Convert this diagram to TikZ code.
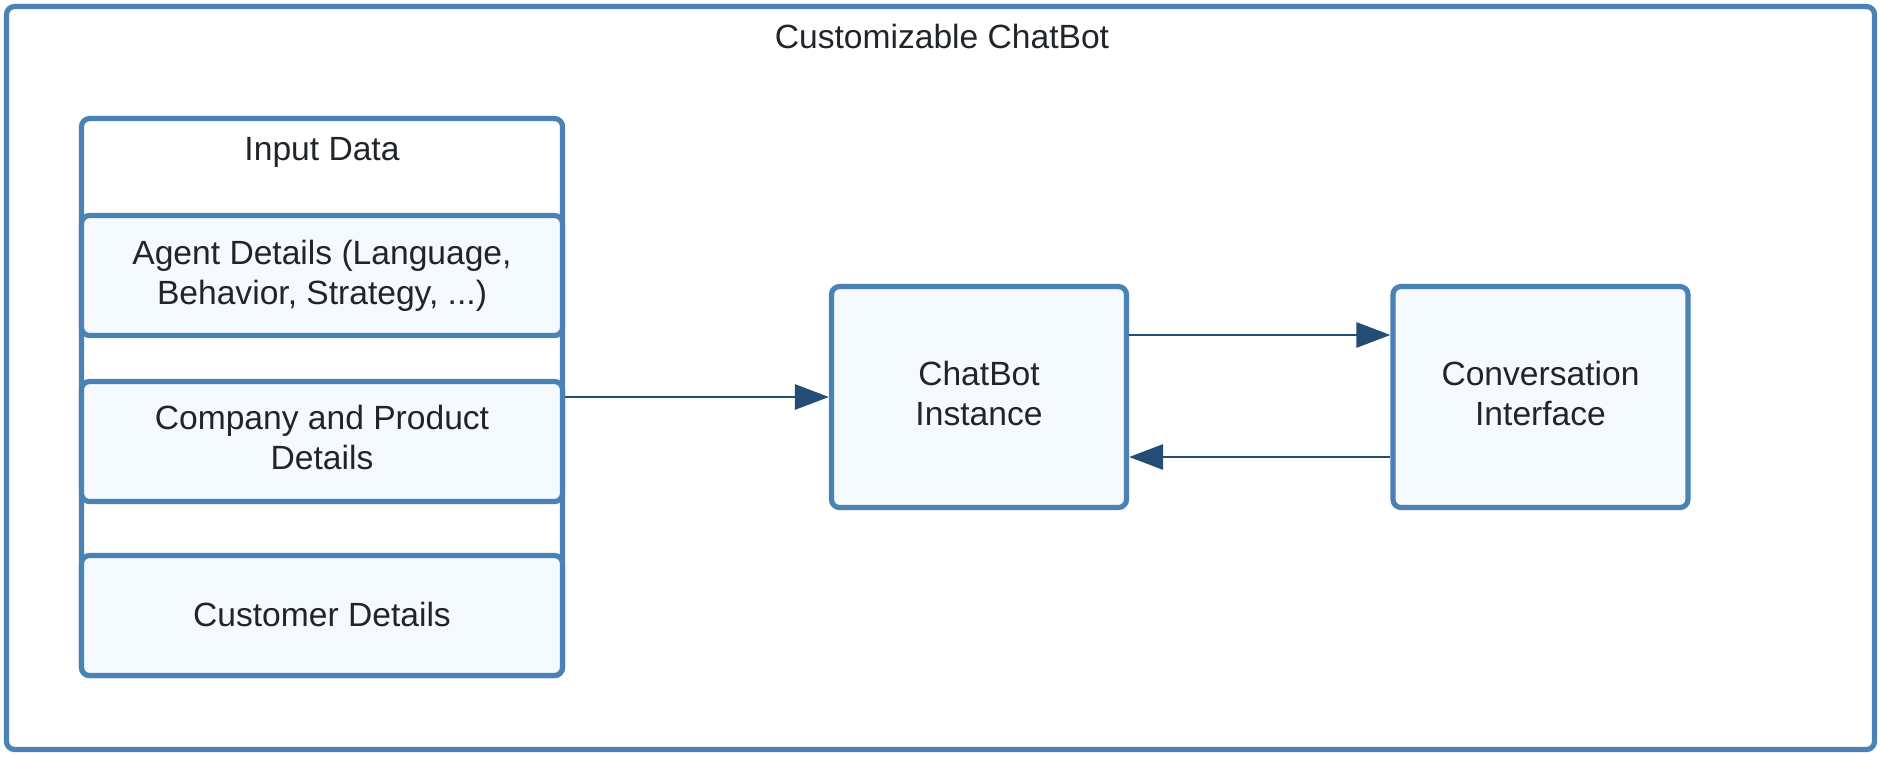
\documentclass[tikz,border=0pt]{standalone}
\usepackage{fontspec}
\setmainfont{Liberation Sans}
\usetikzlibrary{arrows.meta}

\begin{document}
\begin{tikzpicture}[x=0.5pt,y=-0.5pt,
	box/.style={draw=boxline,line width=2.6pt,rounded corners=4pt,fill=boxfill,align=center,inner sep=0pt,text=textc,font=\fontsize{16.8}{20}\selectfont},
	lbl/.style={text=textc,font=\fontsize{16.8}{20}\selectfont,inner sep=0pt},
	flow/.style={-{Triangle[length=17pt,width=12.5pt]},draw=arrowc,line width=1.4pt}]
	\definecolor{boxline}{RGB}{74,130,181}
	\definecolor{boxfill}{RGB}{245,250,255}
	\definecolor{arrowc}{RGB}{35,77,117}
	\definecolor{textc}{RGB}{33,37,41}

	\useasboundingbox (0,0) rectangle (1881,756);

	\node (frame) at (940.5,378) [box,fill=white,minimum width=934pt,minimum height=371.5pt]{};
	\node (title) at (942,36) [lbl]{Customizable ChatBot};

	\node (input) at (322,397) [box,fill=white,minimum width=240.5pt,minimum height=278.5pt]{};
	\node (inputlbl) at (322,152) [lbl]{Input Data};
	\node (agent) at (322,275.5) [box,minimum width=240.5pt,minimum height=60pt]{Agent Details (Language,\\Behavior, Strategy, ...)};
	\node (company) at (322,441.5) [box,minimum width=240.5pt,minimum height=60pt]{\raisebox{2pt}{\begin{tabular}{@{}c@{}}Company and Product\\Details\end{tabular}}};
	\node (customer) at (322,615.5) [box,minimum width=240.5pt,minimum height=60pt]{\raisebox{1.5pt}{Customer Details}};

	\node (chatbot) at (979,397) [box,minimum width=147.5pt,minimum height=110.5pt]{\raisebox{2pt}{\begin{tabular}{@{}c@{}}ChatBot\\Instance\end{tabular}}};
	\node (conv) at (1540.5,397) [box,minimum width=147.5pt,minimum height=110.5pt]{\raisebox{2pt}{\begin{tabular}{@{}c@{}}Conversation\\Interface\end{tabular}}};

	\draw[flow] (input.east |- chatbot) -- (chatbot.west);
	\draw[flow] ([yshift=31pt]chatbot.east) -- ([yshift=31pt]conv.west);
	\draw[flow] ([yshift=-30pt]conv.west) -- ([yshift=-30pt]chatbot.east);

\end{tikzpicture}
\end{document}
